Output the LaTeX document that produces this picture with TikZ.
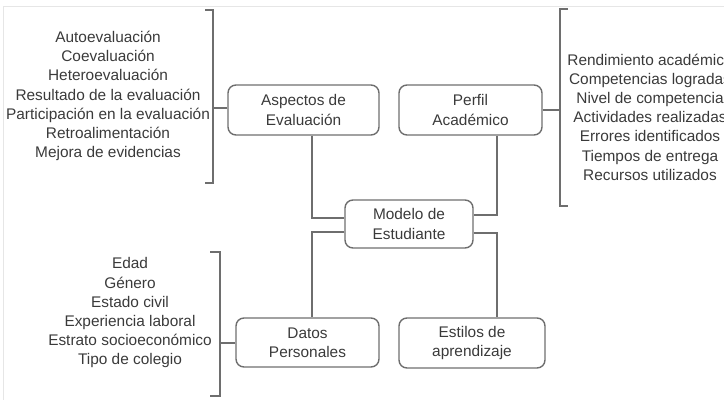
\documentclass[tikz,border=0pt]{standalone}
\usepackage{fontspec}
\setmainfont{Liberation Sans}
\usetikzlibrary{positioning}
\definecolor{linegray}{HTML}{6E6E6E}
\definecolor{textgray}{HTML}{3A3A3A}
\definecolor{framegray}{HTML}{E6E6E6}
\begin{document}
\begin{tikzpicture}[x=1pt,y=-1pt,
    font=\fontsize{15.4}{19.2}\selectfont, text=textgray,
    box/.style={draw=linegray,line width=1.4pt,rounded corners=8pt,align=center,inner sep=0pt},
    lista/.style={align=center,inner sep=0pt},
    conn/.style={draw=linegray,line width=1.4pt}]
    \useasboundingbox (0,0) rectangle (724,400);
    \draw[framegray,line width=1pt] (3,400) -- (3,6) -- (724,6);

    \node[box,minimum width=151pt,minimum height=50pt] (aspectos) at (303.5,110) {Aspectos de\\Evaluación};
    \node[box,minimum width=143pt,minimum height=50pt] (perfil) at (470.5,110) {Perfil\\Académico};
    \node[box,minimum width=128pt,minimum height=48pt] (modelo) at (409,224) {Modelo de\\Estudiante};
    \node[box,minimum width=143pt,minimum height=49pt] (datos) at (307.5,342.5) {Datos\\Personales};
    \node[box,minimum width=146pt,minimum height=50pt] (estilos) at (472,343) {Estilos de\\aprendizaje};

    \node[lista] (listaasp) at (108,96) {Autoevaluación\\Coevaluación\\Heteroevaluación\\Resultado de la evaluación\\Participación en la evaluación\\Retroalimentación\\Mejora de evidencias};
    \node[lista] (listaper) at (650,117) {Rendimiento académico\\Competencias logradas\\Nivel de competencia\\Actividades realizadas\\Errores identificados\\Tiempos de entrega\\Recursos utilizados};
    \node[lista] (listadat) at (130,313) {Edad\\Género\\Estado civil\\Experiencia laboral\\Estrato socioeconómico\\Tipo de colegio};

    \coordinate (llaveasp) at (213,108);
    \coordinate (llaveper) at (560,110);
    \coordinate (llavedat) at (220,343);

    \draw[conn] (205,10) -- (213,10) -- (213,183) -- (205,183);
    \draw[conn] (aspectos.west |- llaveasp) -- (llaveasp);
    \draw[conn] (568,9) -- (560,9) -- (560,206) -- (568,206);
    \draw[conn] (perfil.east) -- (llaveper);
    \draw[conn] (210,252) -- (220,252) -- (220,396) -- (210,396);
    \draw[conn] (datos.west |- llavedat) -- (llavedat);

    \draw[conn] ([xshift=8.5pt]aspectos.south) |- ([yshift=6pt]modelo.west);
    \draw[conn] ([yshift=-8pt]modelo.west) -| ([xshift=4.5pt]datos.north);
    \draw[conn] ([xshift=26.5pt]perfil.south) |- ([yshift=9pt]modelo.east);
    \draw[conn] ([yshift=-9pt]modelo.east) -| ([xshift=25pt]estilos.north);
\end{tikzpicture}
\end{document}
